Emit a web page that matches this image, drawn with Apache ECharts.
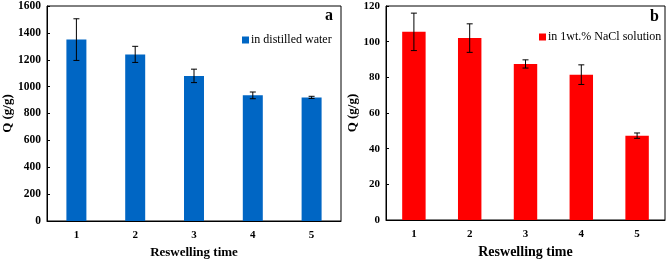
<!DOCTYPE html>
<html>
<head>
<meta charset="utf-8">
<script src="https://cdn.jsdelivr.net/npm/echarts@6/dist/echarts.min.js"></script>
<style>html,body{margin:0;padding:0;background:#fff}#c{width:668px;height:264px}</style>
</head>
<body>
<div id="c"></div>
<script>
var categories = ['1', '2', '3', '4', '5'];
var waterValues = [1350, 1240, 1080, 935, 920];
var waterErrors = [155, 60, 50, 25, 8];
var saltValues = [105.5, 102, 87.5, 81.5, 47.3];
var saltErrors = [10.5, 8, 2.3, 5.5, 1.5];
var waterTicks = [0, 200, 400, 600, 800, 1000, 1200, 1400, 1600];
var saltTicks = [0, 20, 40, 60, 80, 100, 120];

var FONT = '"Liberation Serif", "Times New Roman", serif';

function errData(vals, errs) {
  return vals.map(function (v, i) { return [i, v - errs[i], v + errs[i]]; });
}
function errRender(params, api) {
  var x = api.value(0);
  var lo = api.coord([x, api.value(1)]);
  var hi = api.coord([x, api.value(2)]);
  var w = 3;
  var st = { stroke: '#000', lineWidth: 1 };
  return {
    type: 'group',
    children: [
      { type: 'line', shape: { x1: hi[0], y1: hi[1], x2: lo[0], y2: lo[1] }, style: st },
      { type: 'line', shape: { x1: hi[0] - w, y1: hi[1], x2: hi[0] + w, y2: hi[1] }, style: st },
      { type: 'line', shape: { x1: lo[0] - w, y1: lo[1], x2: lo[0] + w, y2: lo[1] }, style: st }
    ]
  };
}

function xAxis(idx, nameSize) {
  return {
    type: 'category', gridIndex: idx, data: categories,
    name: 'Reswelling time', nameLocation: 'middle', nameGap: 25,
    nameTextStyle: { fontFamily: FONT, fontWeight: 'bold', fontSize: nameSize, color: '#000' },
    axisLine: { lineStyle: { color: '#000', width: 1 } },
    axisTick: { show: false },
    axisLabel: { fontFamily: FONT, fontWeight: 'bold', fontSize: 11, color: '#000', margin: 9 },
    splitLine: { show: false }
  };
}
function yAxis(idx, ticks, gap, labelSize) {
  return {
    type: 'value', gridIndex: idx, min: ticks[0], max: ticks[ticks.length - 1], interval: ticks[1] - ticks[0],
    name: 'Q (g/g)', nameLocation: 'middle', nameGap: gap, nameRotate: 90,
    nameTextStyle: { fontFamily: FONT, fontWeight: 'bold', fontSize: 13, color: '#000' },
    axisLine: { show: true, lineStyle: { color: '#000', width: 1 } },
    axisTick: { show: true, inside: true, length: 3, lineStyle: { color: '#000' } },
    axisLabel: { fontFamily: FONT, fontWeight: 'bold', fontSize: labelSize, color: '#000', margin: 6,
      formatter: function (v) { return String(v); } },
    splitLine: { show: false }
  };
}

var chart = echarts.init(document.getElementById('c'), null, { renderer: 'canvas' });
chart.setOption({
  animation: false,
  backgroundColor: '#fff',
  grid: [
    { left: 46, top: 5, width: 295, height: 220, show: true, borderColor: '#000', borderWidth: 1, backgroundColor: 'transparent' },
    { left: 386, top: 6, width: 279, height: 216, show: true, borderColor: '#000', borderWidth: 1, backgroundColor: 'transparent' }
  ],
  xAxis: [xAxis(0, 13), xAxis(1, 14)],
  yAxis: [yAxis(0, waterTicks, 33, 11.5), yAxis(1, saltTicks, 19, 11)],
  legend: [
    { data: ['in distilled water'], left: 242, top: 34, padding: 0, icon: 'rect', itemWidth: 7, itemHeight: 7, itemGap: 3,
      textStyle: { fontFamily: FONT, fontSize: 12, color: '#000', padding: [0, 0, 0, -3] } },
    { data: ['in 1wt.% NaCl solution'], left: 539, top: 31, padding: 0, icon: 'rect', itemWidth: 7, itemHeight: 7, itemGap: 3,
      textStyle: { fontFamily: FONT, fontSize: 12, color: '#000', padding: [0, 0, 0, -3] } }
  ],
  graphic: [
    { type: 'text', left: 325, top: 8, style: { text: 'a', font: 'bold 16px ' + FONT, fill: '#000' } },
    { type: 'text', left: 650, top: 9, style: { text: 'b', font: 'bold 16px ' + FONT, fill: '#000' } }
  ],
  series: [
    { name: 'in distilled water', type: 'bar', xAxisIndex: 0, yAxisIndex: 0, data: waterValues,
      barWidth: '34%', itemStyle: { color: '#0066C4' } },
    { type: 'custom', xAxisIndex: 0, yAxisIndex: 0, data: errData(waterValues, waterErrors),
      renderItem: errRender, encode: { x: 0, y: [1, 2] }, z: 10 },
    { name: 'in 1wt.% NaCl solution', type: 'bar', xAxisIndex: 1, yAxisIndex: 1, data: saltValues,
      barWidth: '42%', itemStyle: { color: '#FF0000' } },
    { type: 'custom', xAxisIndex: 1, yAxisIndex: 1, data: errData(saltValues, saltErrors),
      renderItem: errRender, encode: { x: 0, y: [1, 2] }, z: 10 }
  ]
});
</script>
</body>
</html>
